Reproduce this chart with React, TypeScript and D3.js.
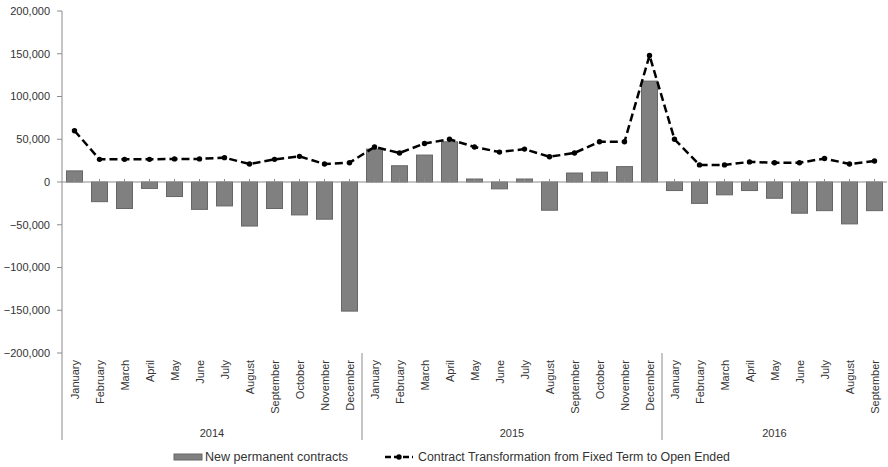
import React from 'react';
import * as d3 from 'd3';

// month labels per year
const years = ['2014', '2015', '2016'];
const monthNames = ['January', 'February', 'March', 'April', 'May', 'June', 'July', 'August', 'September', 'October', 'November', 'December'];
const monthsPerYear = [12, 12, 9];

// New permanent contracts (bars)
const newPermanent = [
  13000, -23000, -31000, -7500, -17000, -32000, -28000, -51500, -31000, -38500, -43500, -151000,
  38500, 19000, 31500, 47000, 3500, -8000, 3500, -33000, 10500, 11500, 18000, 118000,
  -10000, -25000, -15000, -10000, -19000, -36500, -33500, -49000, -33500,
];

// Contract Transformation from Fixed Term to Open Ended (dashed line)
const transformation = [
  60000, 26500, 26500, 26500, 27000, 27000, 28500, 21000, 26500, 30000, 21000, 22500,
  41000, 34000, 45000, 50000, 41000, 35000, 38500, 29500, 34000, 47000, 47000, 148000,
  50000, 20000, 20000, 23500, 22500, 22500, 27500, 21000, 24500,
];

const yTicks = [200000, 150000, 100000, 50000, 0, -50000, -100000, -150000, -200000];

const barLabel = 'New permanent contracts';
const lineLabel = 'Contract Transformation from Fixed Term to Open Ended';

const W = 888;
const H = 467;
const FONT = '"Liberation Sans", Arial, sans-serif';
const TEXT = '#333';
const AXIS = '#8c8c8c';

export default function App() {
  // flatten categories
  const cats: { year: string; month: string; i: number }[] = [];
  years.forEach((y, yi) => {
    for (let m = 0; m < monthsPerYear[yi]; m++) cats.push({ year: y, month: monthNames[m], i: cats.length });
  });

  const left = 62;
  const right = 887;
  const x = d3.scaleBand<number>()
    .domain(cats.map(c => c.i))
    .range([left, right])
    .paddingInner(0.36)
    .paddingOuter(0.18);
  const step = x.step();
  const cx = (i: number) => (x(i) as number) + x.bandwidth() / 2;

  const y = d3.scaleLinear().domain([-200000, 200000]).range([353, 11]);
  const y0 = y(0);

  const line = d3.line<number>()
    .x((_, i) => cx(i))
    .y(d => y(d));

  const fmt = d3.format(',');

  // year group boundaries
  const bounds: number[] = [0];
  monthsPerYear.forEach(n => bounds.push(bounds[bounds.length - 1] + n));
  const boundX = (k: number) => left + (k === 0 ? 0 : step * bounds[k]);

  return (
    <svg width={W} height={H} style={{ position: 'absolute', left: 0, top: 0, background: '#fff' }}
      fontFamily={FONT}>
      <rect width={W} height={H} fill="#fff" />

      {/* y axis */}
      <line x1={left} x2={left} y1={y(200000)} y2={440} stroke={AXIS} strokeWidth={1} />
      {yTicks.map(t => (
        <g key={t}>
          <line x1={left - 5} x2={left} y1={y(t)} y2={y(t)} stroke={AXIS} />
          <text x={50} y={y(t)} dy="0.35em" textAnchor="end" fontSize={11} fill={TEXT}>{fmt(t)}</text>
        </g>
      ))}

      {/* bars */}
      {cats.map(c => {
        const v = newPermanent[c.i];
        return (
          <rect key={c.i} x={x(c.i)} width={x.bandwidth()}
            y={Math.min(y(v), y0)} height={Math.abs(y(v) - y0)}
            fill="#808080" stroke="#666" strokeWidth={1} />
        );
      })}

      {/* zero axis */}
      <line x1={left} x2={right} y1={y0} y2={y0} stroke={AXIS} strokeWidth={1.2} />
      {cats.map(c => (
        <line key={c.i} x1={cx(c.i)} x2={cx(c.i)} y1={y0 - 3} y2={y0} stroke={AXIS} />
      ))}

      {/* dashed line */}
      <path d={line(transformation) || ''} fill="none" stroke="#000" strokeWidth={2.5} strokeDasharray="8,4" />
      {transformation.map((v, i) => (
        <circle key={i} cx={cx(i)} cy={y(v)} r={2.7} fill="#000" />
      ))}

      {/* month labels */}
      {cats.map(c => (
        <text key={c.i} transform={`translate(${cx(c.i) + 4},360) rotate(-90)`} textAnchor="end"
          fontSize={11} fill={TEXT}>{c.month}</text>
      ))}

      {/* year dividers and labels */}
      {years.map((yr, k) => (
        <g key={yr}>
          {k > 0 && <line x1={boundX(k)} x2={boundX(k)} y1={353} y2={440} stroke={AXIS} />}
          <text x={(boundX(k) + boundX(k + 1)) / 2} y={437} textAnchor="middle" fontSize={11} fill={TEXT}>{yr}</text>
        </g>
      ))}

      {/* legend */}
      <rect x={174} y={454} width={28} height={6} fill="#808080" stroke="#666" />
      <text x={205} y={461} fontSize={12} fill={TEXT} textLength={143} lengthAdjust="spacingAndGlyphs">{barLabel}</text>
      <line x1={385} x2={413} y1={457} y2={457} stroke="#000" strokeWidth={2.5} strokeDasharray="6,3" />
      <circle cx={399} cy={457} r={2.7} fill="#000" />
      <text x={418} y={461} fontSize={12} fill={TEXT} textLength={312} lengthAdjust="spacingAndGlyphs">{lineLabel}</text>
    </svg>
  );
}
